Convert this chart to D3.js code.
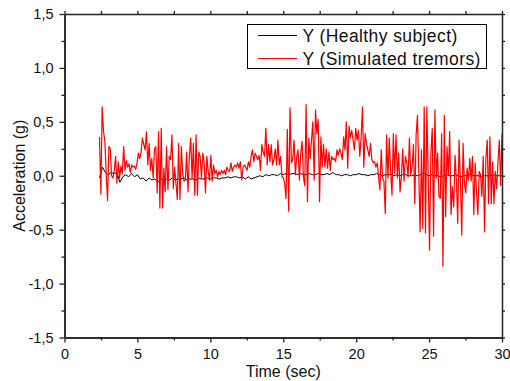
<!DOCTYPE html>
<html>
<head>
<meta charset="utf-8">
<script src="https://cdn.jsdelivr.net/npm/d3@7"></script>
<style>
  body { margin: 0; background: #fff; }
  text { font-family: Arial, "Liberation Sans", sans-serif; fill: #111; }
</style>
</head>
<body>
<div id="chart"></div>
<script>
// time range of the recordings (sec)
const tStart = 2.4
const tEnd = 30

// Y acceleration, healthy subject (g)
const healthy = [
  -0.02, 0.08, 0.03, 0.01, 0.03, 0.02, 0.03, -0.06, -0.01, 0.01,
  -0.01, 0.02, -0.01, 0.01, -0.03, -0.02, -0.05, -0.02, -0.04, -0.03,
  -0.06, -0.03, -0.04, -0.03, -0.04, -0.02, -0.04, -0.03, -0.03, -0.02,
  -0.04, -0.03, -0.03, -0.04, -0.02, -0.03, -0.03, -0.02, -0.03, -0.02,
  -0.02, -0.03, -0.02, -0.02, -0.01, -0.02, -0.01, -0.01, -0.02, -0.01,
  -0.03, -0.01, -0.03, -0.02, -0.01, 0.00, -0.01, 0.01, 0.00, 0.01,
  0.01, 0.00, 0.02, 0.01, 0.02, 0.01, 0.02, 0.02, 0.01, 0.02,
  0.01, 0.01, 0.02, 0.01, 0.01, 0.02, 0.01, 0.01, 0.02, 0.01,
  0.03, 0.01, 0.01, 0.00, 0.01, 0.01, 0.00, 0.01, 0.01, 0.02,
  0.01, 0.01, 0.00, 0.01, 0.01, 0.02, 0.01, 0.00, 0.01, 0.01,
  0.01, 0.00, 0.01, 0.00, 0.01, 0.01, 0.00, 0.00, 0.01, 0.00,
  0.01, 0.02, 0.01, 0.00, 0.01, 0.00, 0.00, -0.01, 0.00, 0.01,
  0.00, 0.00, 0.01, 0.00, -0.01, 0.00, 0.00, 0.01, 0.00, 0.00,
  0.00, -0.01, 0.00, 0.00, 0.00, 0.01, 0.00, 0.00, 0.00
]

// Y acceleration, simulated tremors (g)
const tremor = [
  0.36, -0.17, 0.64, 0.41, 0.32, 0.02, -0.23, 0.27, 0.25, 0.00,
  -0.02, 0.05, 0.18, -0.07, 0.13, -0.02, 0.09, 0.02, 0.27, 0.05,
  0.14, 0.08, 0.11, 0.03, 0.10, 0.08, 0.09, 0.06, 0.12, 0.21,
  0.16, 0.22, 0.35, 0.29, 0.24,
  0.41, 0.10, 0.30, 0.05, 0.16, -0.02, 0.25, 0.27, -0.16, 0.41,
  -0.30, 0.44, -0.30, 0.07, -0.15, 0.27, -0.13, 0.18, 0.15, 0.38,
  -0.12, 0.08, -0.07, -0.22, 0.30, -0.22, 0.27, 0.02, -0.05, -0.04,
  0.22, -0.15, 0.18, 0.35, -0.02, 0.30, -0.18, 0.38, -0.18, 0.22,
  0.18, -0.02, 0.21, 0.12, -0.16, 0.18, 0.04, -0.04, 0.19, -0.05,
  0.10, 0.02, 0.05, -0.01, 0.04, 0.01, 0.05, 0.02, 0.05, 0.01,
  0.08, 0.05, 0.04, 0.12, 0.04, 0.08,
  0.10, 0.08, 0.12, 0.07, 0.13, -0.04, 0.08, 0.10, 0.08, 0.05,
  0.13, 0.08, 0.18, 0.24, 0.13, 0.21, 0.18, 0.15, 0.19, 0.05,
  0.29, 0.22, 0.18, 0.44, 0.10, 0.29, 0.13, 0.29, 0.10, 0.15,
  0.25, 0.10, 0.33, 0.10, 0.18, -0.01, -0.02, -0.07, -0.21, 0.43,
  -0.33, 0.63, 0.12, 0.15, 0.33, 0.01, 0.18, 0.24, -0.04, 0.21,
  0.32, -0.01, -0.09, 0.66, -0.24, 0.35, 0.16, 0.33, 0.50, -0.04,
  0.61, 0.39, 0.52, -0.24, 0.36, 0.08,
  0.29, 0.08, 0.25, 0.07, 0.22, 0.05, 0.18, 0.15, 0.16, 0.13,
  0.24, 0.19, 0.25, 0.21, 0.15, 0.36, 0.24, 0.50, 0.07, 0.46,
  0.35, 0.42, 0.33, 0.24, 0.44, 0.33, 0.42, 0.18, 0.35, 0.64,
  0.08, 0.39, 0.30, 0.24, 0.18, 0.30, 0.15, 0.12, 0.13, 0.08,
  0.12, -0.01, -0.13, 0.24, -0.02, -0.05, -0.35, 0.38, -0.02, 0.35,
  0.04, -0.18, 0.39, 0.02, 0.38, -0.02, 0.21, -0.15, -0.01, 0.25,
  -0.05, 0.18, 0.12, -0.01, 0.35, 0.01,
  0.08, 0.29, -0.26, 0.38, 0.56, 0.02, -0.52, 0.24, -0.49, 0.64,
  -0.53, 0.64, -0.02, -0.69, 0.21, 0.44, -0.56, 0.61, -0.02, 0.21,
  -0.19, -0.21, 0.39, -0.84, 0.56, -0.38, 0.27, 0.01, 0.41, -0.36,
  -0.10, -0.29, 0.19, -0.04, -0.44, 0.33, -0.04, -0.55, 0.30, -0.07,
  -0.16, 0.07, -0.04, 0.16, -0.05, 0.18, -0.36, 0.12, -0.15, -0.36,
  0.04, 0.01, -0.19, 0.18, -0.52, 0.16, 0.33, -0.26, 0.36, -0.26,
  0.13, -0.26, 0.04, -0.12, 0.13, 0.33, -0.09, 0.39
]

const xTicks = [0, 5, 10, 15, 20, 25, 30]
const yTicks = [-1.5, -1.0, -0.5, 0.0, 0.5, 1.0, 1.5]
const seriesNames = ['Y (Healthy subject)', 'Y (Simulated tremors)']
const seriesColors = ['#000000', '#ff0000']

const w = 510
const h = 381
const margin = { top: 14, right: 8, bottom: 43.5, left: 64.5 }
const width = w - margin.left - margin.right
const height = h - margin.top - margin.bottom

const svg = d3.select('#chart').append('svg')
  .attr('width', w)
  .attr('height', h)

const g = svg.append('g').attr('transform', 'translate(' + margin.left + ',' + margin.top + ')')

const x = d3.scaleLinear().domain([0, 30]).range([0, width])
const y = d3.scaleLinear().domain([-1.5, 1.5]).range([height, 0])

const comma = d => d.toFixed(1).replace('.', ',')

// sample the series over the recorded time span
const toPoints = vals => {
  const dt = (tEnd - tStart) / (vals.length - 1)
  return vals.map((v, i) => ({ t: tStart + i * dt, v: v }))
}

const line = d3.line()
  .x(d => x(d.t))
  .y(d => y(d.v))

g.append('path')
  .datum(toPoints(healthy))
  .attr('fill', 'none')
  .attr('stroke', seriesColors[0])
  .attr('stroke-width', 1)
  .attr('d', line)

g.append('path')
  .datum(toPoints(tremor))
  .attr('fill', 'none')
  .attr('stroke', seriesColors[1])
  .attr('stroke-width', 1.2)
  .attr('stroke-linejoin', 'round')
  .attr('d', line)

// minor ticks
const xMinor = d3.range(0, 30.01, 2.5).filter(d => d % 5 !== 0)
const yMinor = d3.range(-1.5, 1.51, 0.25).filter(d => Math.abs(d * 2 - Math.round(d * 2)) > 0.01)

const styleAxis = (sel) => {
  sel.select('.domain').attr('stroke', '#222').attr('stroke-width', 1.5)
  sel.selectAll('.tick line').attr('stroke', '#222').attr('stroke-width', 1.3)
  sel.selectAll('.tick text').style('font-size', '14.5px').attr('fill', '#111')
}

g.append('g')
  .attr('transform', 'translate(0,' + height + ')')
  .call(d3.axisBottom(x).tickValues(xTicks).tickSize(5).tickPadding(6).tickSizeOuter(0))
  .call(styleAxis)

g.append('g')
  .attr('transform', 'translate(0,' + height + ')')
  .call(d3.axisBottom(x).tickValues(xMinor).tickSize(3).tickFormat('').tickSizeOuter(0))
  .call(styleAxis)

g.append('g')
  .call(d3.axisLeft(y).tickValues(yTicks).tickFormat(comma).tickSize(5).tickPadding(6).tickSizeOuter(0))
  .call(styleAxis)

g.append('g')
  .call(d3.axisLeft(y).tickValues(yMinor).tickSize(3).tickFormat('').tickSizeOuter(0))
  .call(styleAxis)

// mirrored top and right axes
g.append('g')
  .call(d3.axisTop(x).tickValues(xTicks.concat(xMinor)).tickSize(3).tickFormat('').tickSizeOuter(0))
  .call(styleAxis)

g.append('g')
  .attr('transform', 'translate(' + width + ',0)')
  .call(d3.axisRight(y).tickValues(yTicks.concat(yMinor)).tickSize(3).tickFormat('').tickSizeOuter(0))
  .call(styleAxis)

// axis titles
svg.append('text')
  .attr('x', margin.left + width / 2)
  .attr('y', 377)
  .attr('text-anchor', 'middle')
  .style('font-size', '16px')
  .text('Time (sec)')

svg.append('text')
  .attr('transform', 'translate(25,' + (margin.top + height / 2) + ') rotate(-90)')
  .attr('text-anchor', 'middle')
  .style('font-size', '16px')
  .text('Acceleration (g)')

// legend
const legend = svg.append('g').attr('transform', 'translate(247.5,24.5)')
legend.append('rect')
  .attr('width', 239)
  .attr('height', 44)
  .attr('fill', '#fff')
  .attr('stroke', '#000')
  .attr('stroke-width', 1)

seriesNames.forEach(function (name, i) {
  const row = legend.append('g').attr('transform', 'translate(0,' + (11 + i * 23) + ')')
  row.append('line')
    .attr('x1', 10.5).attr('x2', 49.5)
    .attr('y1', 0).attr('y2', 0)
    .attr('stroke', seriesColors[i])
    .attr('stroke-width', 1)
  row.append('text')
    .attr('x', 55)
    .attr('y', 6.3)
    .style('font-size', '17.5px')
    .style('letter-spacing', '0.4px')
    .text(name)
})
</script>
</body>
</html>
